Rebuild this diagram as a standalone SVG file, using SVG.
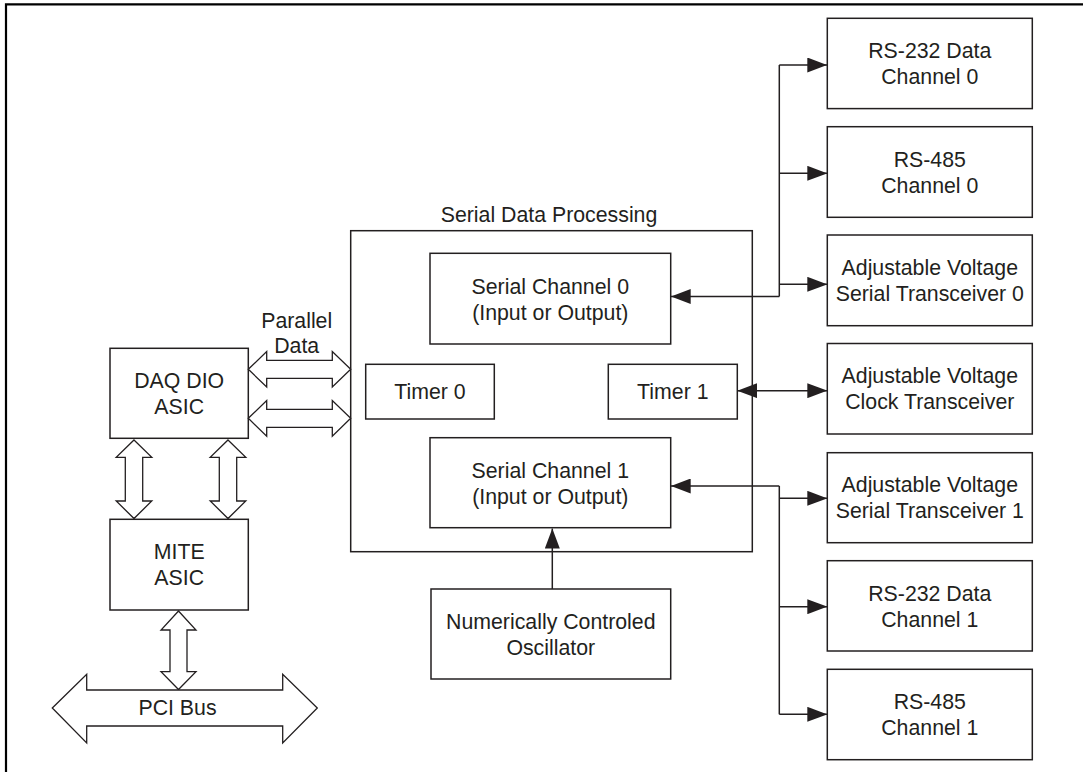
<svg xmlns="http://www.w3.org/2000/svg" width="1083" height="772" viewBox="0 0 1083 772">
<defs>
<style>
.box{fill:#fff;stroke:#231f20;stroke-width:1.5}
.frame{fill:none;stroke:#231f20;stroke-width:1.5}
.t{font-family:"Liberation Sans",Arial,sans-serif;font-size:21.3px;fill:#231f20;text-anchor:middle}
.ln{fill:none;stroke:#231f20;stroke-width:1.5}
.hol{fill:#fff;stroke:#231f20;stroke-width:1.3;stroke-linejoin:miter}
</style>
<marker id="ah" viewBox="0 0 20 15" refX="20" refY="7.5" markerWidth="20" markerHeight="15" markerUnits="userSpaceOnUse" orient="auto-start-reverse">
<path d="M0,0 L20,7.5 L0,15 Z" fill="#231f20"/>
</marker>
</defs>
<rect width="1083" height="772" fill="#fff"/>
<path d="M6,772 V4.3 H1083" fill="none" stroke="#000" stroke-width="2.2"/>

<g id="parallel-data-label">
<text class="t" x="296.7" y="328.3">Parallel</text>
<text class="t" x="296.7" y="353.3">Data</text>
</g>

<g id="daq-dio-asic">
<rect class="box" x="110" y="348.3" width="138.3" height="90"/>
<text class="t" x="179.2" y="388">DAQ DIO</text>
<text class="t" x="179.2" y="414">ASIC</text>
</g>

<g id="mite-asic">
<rect class="box" x="110" y="519.3" width="138.3" height="90.7"/>
<text class="t" x="179.2" y="559.3">MITE</text>
<text class="t" x="179.2" y="585.3">ASIC</text>
</g>

<g id="serial-data-processing">
<text class="t" x="549" y="221.7">Serial Data Processing</text>
<rect class="frame" x="350.7" y="230.7" width="401.6" height="321"/>
</g>

<g id="serial-channel-0">
<rect class="box" x="430" y="253.3" width="240.7" height="90.7"/>
<text class="t" x="550.3" y="294">Serial Channel 0</text>
<text class="t" x="550.3" y="320">(Input or Output)</text>
</g>

<g id="timer-0">
<rect class="box" x="365.7" y="364.3" width="128.6" height="54.7"/>
<text class="t" x="430" y="399.2">Timer 0</text>
</g>

<g id="timer-1">
<rect class="box" x="608.3" y="364.3" width="129" height="54.7"/>
<text class="t" x="672.8" y="399.2">Timer 1</text>
</g>

<g id="serial-channel-1">
<rect class="box" x="430" y="437.7" width="240.7" height="90"/>
<text class="t" x="550.3" y="477.5">Serial Channel 1</text>
<text class="t" x="550.3" y="503.5">(Input or Output)</text>
</g>

<g id="nco">
<rect class="box" x="431" y="589" width="239.7" height="90"/>
<text class="t" x="550.8" y="628.5">Numerically Controled</text>
<text class="t" x="550.8" y="654.5">Oscillator</text>
</g>

<g id="rs232-ch0">
<rect class="box" x="827.3" y="18.3" width="205" height="90.3"/>
<text class="t" x="929.8" y="58">RS-232 Data</text>
<text class="t" x="929.8" y="84">Channel 0</text>
</g>

<g id="rs485-ch0">
<rect class="box" x="827.3" y="126.7" width="205" height="90.6"/>
<text class="t" x="929.8" y="166.5">RS-485</text>
<text class="t" x="929.8" y="192.5">Channel 0</text>
</g>

<g id="av-serial-0">
<rect class="box" x="827.3" y="235" width="205" height="90.7"/>
<text class="t" x="929.8" y="275">Adjustable Voltage</text>
<text class="t" x="929.8" y="301">Serial Transceiver 0</text>
</g>

<g id="av-clock">
<rect class="box" x="827.3" y="343.5" width="205" height="90.5"/>
<text class="t" x="929.8" y="383.3">Adjustable Voltage</text>
<text class="t" x="929.8" y="409.3">Clock Transceiver</text>
</g>

<g id="av-serial-1">
<rect class="box" x="827.3" y="452.7" width="205" height="90"/>
<text class="t" x="929.8" y="492.2">Adjustable Voltage</text>
<text class="t" x="929.8" y="518.2">Serial Transceiver 1</text>
</g>

<g id="rs232-ch1">
<rect class="box" x="827.3" y="560.7" width="205" height="90.3"/>
<text class="t" x="929.8" y="600.5">RS-232 Data</text>
<text class="t" x="929.8" y="626.5">Channel 1</text>
</g>

<g id="rs485-ch1">
<rect class="box" x="827.3" y="669.3" width="205" height="90.4"/>
<text class="t" x="929.8" y="709">RS-485</text>
<text class="t" x="929.8" y="735">Channel 1</text>
</g>

<g id="connectors">
<polygon class="hol" points="248.3,369.3 266.7,351.5 266.7,360.3 332.3,360.3 332.3,351.5 350.7,369.3 332.3,387 332.3,378.3 266.7,378.3 266.7,387"/>
<polygon class="hol" points="248.3,418.3 266.7,400.5 266.7,409.3 332.3,409.3 332.3,400.5 350.7,418.3 332.3,436.3 332.3,427.3 266.7,427.3 266.7,436.3"/>
<polygon class="hol" points="134,440 151.8,457.3 142.7,457.3 142.7,501 151.8,501 134,518.5 116.2,501 125.3,501 125.3,457.3 116.2,457.3"/>
<polygon class="hol" points="228,440 245.8,457.3 236.7,457.3 236.7,501 245.8,501 228,518.5 210.2,501 219.3,501 219.3,457.3 210.2,457.3"/>
<polygon class="hol" points="178.5,611 196,630 187,630 187,671.7 196,671.7 178.5,689.5 161,671.7 170,671.7 170,630 161,630"/>

<path class="ln" d="M779.3,296.5 V65"/>
<path class="ln" d="M779.3,296.5 H670.7" marker-end="url(#ah)"/>
<path class="ln" d="M779.3,65 H827.3" marker-end="url(#ah)"/>
<path class="ln" d="M779.3,173.3 H827.3" marker-end="url(#ah)"/>
<path class="ln" d="M779.3,284.3 H827.3" marker-end="url(#ah)"/>

<path class="ln" d="M737.3,390.7 H827.3" marker-start="url(#ah)" marker-end="url(#ah)"/>

<path class="ln" d="M779.3,486 V714.3"/>
<path class="ln" d="M779.3,486 H670.7" marker-end="url(#ah)"/>
<path class="ln" d="M779.3,498.3 H827.3" marker-end="url(#ah)"/>
<path class="ln" d="M779.3,606.7 H827.3" marker-end="url(#ah)"/>
<path class="ln" d="M779.3,714.3 H827.3" marker-end="url(#ah)"/>

<path class="ln" d="M552.3,589 V528.5" marker-end="url(#ah)"/>
</g>

<g id="pci-bus">
<polygon class="hol" points="52.3,708 86.7,674.3 86.7,690 282.7,690 282.7,674.3 317.3,708 282.7,743 282.7,726 86.7,726 86.7,743"/>
<text class="t" x="177.5" y="715">PCI Bus</text>
</g>
</svg>
